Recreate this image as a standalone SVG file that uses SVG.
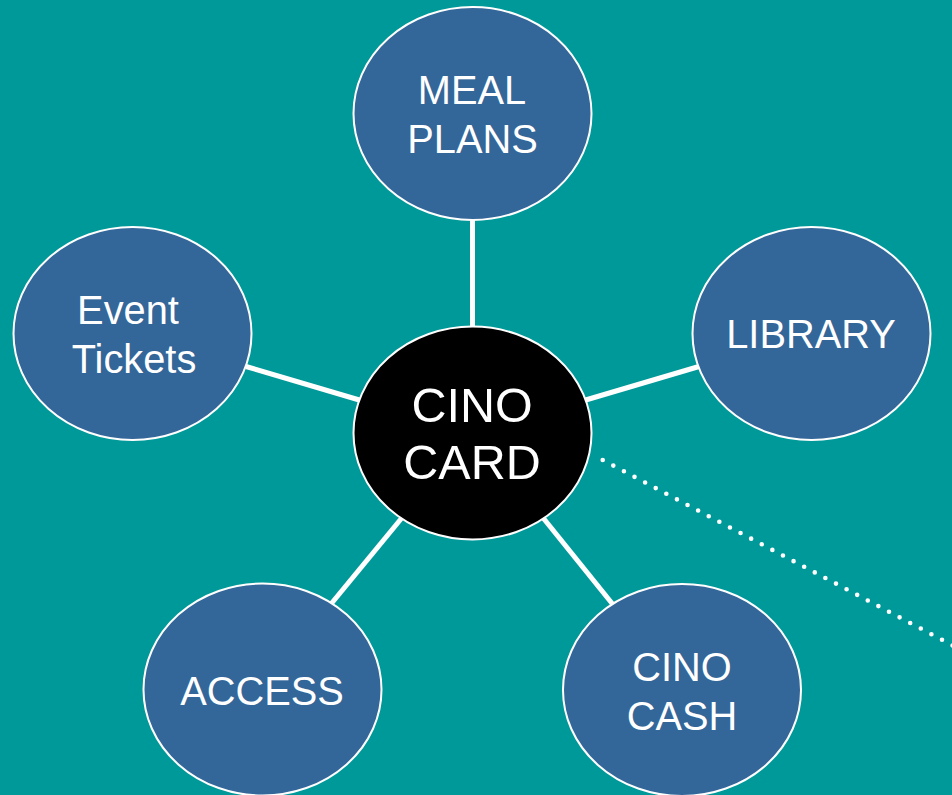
<svg xmlns="http://www.w3.org/2000/svg" width="952" height="795" viewBox="0 0 952 795">
<style>
.node{fill:#336699;stroke:#ffffff;stroke-width:2}
.hub{fill:#000000;stroke:#ffffff;stroke-width:2}
.lbl{font-family:"Liberation Sans",Arial,sans-serif;font-size:39.8px;fill:#ffffff;text-anchor:middle}
.hubl{font-family:"Liberation Sans",Arial,sans-serif;font-size:48.5px;fill:#ffffff;text-anchor:middle}
.conn{stroke:#ffffff;stroke-width:5;fill:none}
.dots{stroke:#ffffff;stroke-width:4.6;stroke-linecap:round;stroke-dasharray:0 12;fill:none}
</style>
<rect x="0" y="0" width="952" height="795" fill="#009999"/>
<g id="connectors">
<line class="conn" x1="472.5" y1="219" x2="472.5" y2="328"/>
<line class="conn" x1="246" y1="366.5" x2="361" y2="400.5"/>
<line class="conn" x1="584" y1="400.5" x2="699" y2="366.5"/>
<line class="conn" x1="403" y1="516.5" x2="331" y2="604"/>
<line class="conn" x1="542" y1="516.5" x2="612.5" y2="604"/>
<line class="dots" x1="602.7" y1="460" x2="965" y2="652"/>
</g>
<g id="meal-plans">
<ellipse class="node" cx="472.5" cy="113.5" rx="119" ry="106.5"/>
<text class="lbl" x="472" y="104">MEAL</text>
<text class="lbl" x="472.5" y="152.5">PLANS</text>
</g>
<g id="event-tickets">
<ellipse class="node" cx="132.5" cy="333.5" rx="119" ry="106.5"/>
<text class="lbl" x="128" y="324">Event</text>
<text class="lbl" x="134" y="372.5">Tickets</text>
</g>
<g id="library">
<ellipse class="node" cx="811.5" cy="333.5" rx="119" ry="106.5"/>
<text class="lbl" x="811" y="348">LIBRARY</text>
</g>
<g id="cino-card">
<ellipse class="hub" cx="472.5" cy="433" rx="119" ry="106.5"/>
<text class="hubl" x="472" y="421.5">CINO</text>
<text class="hubl" x="472" y="478.5">CARD</text>
</g>
<g id="access">
<ellipse class="node" cx="262.5" cy="689.5" rx="119" ry="106"/>
<text class="lbl" x="262" y="705">ACCESS</text>
</g>
<g id="cino-cash">
<ellipse class="node" cx="682" cy="690" rx="119" ry="106"/>
<text class="lbl" x="682" y="681">CINO</text>
<text class="lbl" x="682" y="730">CASH</text>
</g>
</svg>
